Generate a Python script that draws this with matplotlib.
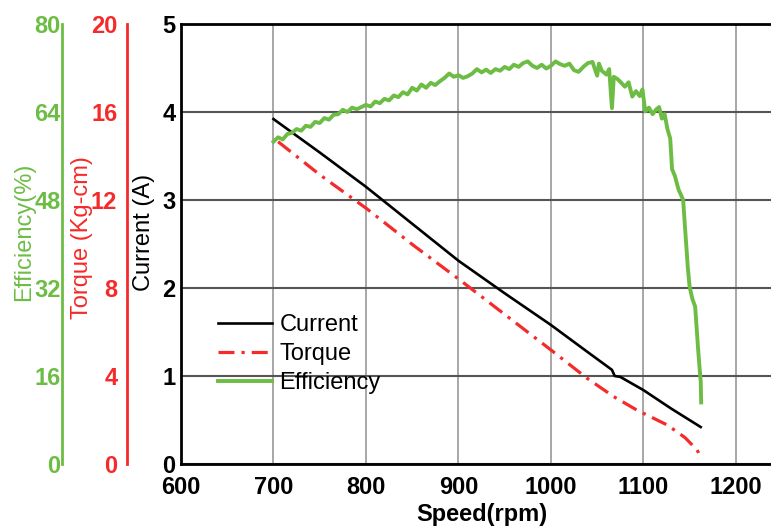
import matplotlib
matplotlib.use("Agg")
from matplotlib import pyplot as plt

plt.rcParams['font.family'] = ['Liberation Sans', 'DejaVu Sans']

# current (A) vs speed
cur_rpm = [700, 750, 800, 850, 900, 950, 1000, 1040, 1066, 1069, 1075, 1100, 1130, 1162]
cur_amp = [3.92, 3.54, 3.15, 2.73, 2.31, 1.94, 1.58, 1.27, 1.07, 1.00, 0.99, 0.84, 0.63, 0.42]

# torque (Kg-cm) vs speed
tq_rpm = [705, 750, 801, 851, 902, 950, 998, 1039, 1068, 1093, 1126, 1145, 1158, 1163]
tq_val = [14.65, 13.15, 11.6, 9.95, 8.35, 6.8, 5.25, 3.9, 3.06, 2.45, 1.77, 1.2, 0.64, 0.25]

# efficiency (%) vs speed
eff_rpm = [700, 705, 710, 715, 720, 725, 730, 735, 740, 745, 750, 755, 760, 765,
           770, 775, 780, 785, 790, 795, 800, 805, 810, 815, 820, 825, 830, 835,
           840, 845, 850, 855, 860, 865, 870, 875, 880, 885, 890, 895, 900, 905,
           910, 915, 920, 925, 930, 935, 940, 945, 950, 955, 960, 965, 970, 975,
           980, 985, 990, 995, 1000, 1005, 1010, 1015, 1020, 1025, 1030, 1035,
           1040, 1045, 1050, 1052, 1055, 1060, 1063, 1066, 1068, 1072, 1075, 1080,
           1084, 1088, 1092, 1096, 1099, 1102, 1106, 1110, 1114, 1117, 1120, 1123,
           1126, 1129, 1131, 1134, 1138, 1141, 1143, 1145, 1146.5, 1148, 1150,
           1153, 1156, 1157.5, 1159, 1160.5, 1162, 1162.5]
eff_val = [58.6, 59.4, 59.0, 60.0, 60.2, 60.9, 60.6, 61.5, 61.3, 62.2, 62.0, 62.9, 62.6, 63.5,
           63.6, 64.4, 64.0, 64.8, 64.5, 64.9, 65.3, 65.0, 65.9, 65.6, 66.4, 66.1, 67.0, 66.7,
           67.6, 67.2, 68.4, 67.9, 69.0, 68.4, 69.3, 68.9, 69.6, 70.2, 71.0, 70.4, 70.7, 70.2,
           70.5, 71.0, 71.8, 71.2, 71.7, 71.1, 71.8, 71.5, 72.2, 71.8, 72.6, 72.2, 72.9, 73.2,
           72.4, 72.0, 72.6, 71.9, 72.4, 73.2, 72.7, 72.4, 72.8, 71.6, 71.3, 72.2,
           72.9, 73.1, 70.6, 72.8, 71.5, 70.8, 71.8, 64.7, 70.4, 70.0, 69.5, 68.6,
           69.4, 66.8, 67.8, 66.9, 68.1, 64.1, 64.8, 63.6, 64.5, 64.9, 62.8, 63.6,
           60.9, 59.2, 53.6, 52.4, 49.9, 48.8, 48.0, 43.0, 39.5, 35.8, 32.2,
           30.0, 28.6, 25.0, 21.3, 18.0, 15.0, 11.2]

green = '#6dbd45'
red = '#f52a2a'
fs = 17

fig = plt.figure(figsize=(7.71, 5.29), dpi=100)
ax = fig.add_axes([181 / 771, 1 - 464 / 529, 590 / 771, 440 / 529])
ax_t = ax.twinx()
ax_e = ax.twinx()

l1, = ax.plot(cur_rpm, cur_amp, color='black', lw=1.9, label='Current')
l2, = ax_t.plot(tq_rpm, tq_val, color=red, lw=2.3, ls=(0, (5, 2.2, 1, 2.2)), label='Torque')
l3, = ax_e.plot(eff_rpm, eff_val, color=green, lw=2.8, label='Efficiency')

ax.set_xlim(600, 1238)
ax.set_ylim(0, 5)
ax_t.set_ylim(0, 20)
ax_e.set_ylim(0, 80)

ax.set_xticks([600, 700, 800, 900, 1000, 1100, 1200])
ax.set_yticks([0, 1, 2, 3, 4, 5])
ax_t.set_yticks([0, 4, 8, 12, 16, 20])
ax_e.set_yticks([0, 16, 32, 48, 64, 80])

ax.xaxis.grid(True, color='#a0a0a0', lw=1.3)
ax.yaxis.grid(True, color='#555555', lw=1.5)
ax.set_axisbelow(True)

for s in ['left', 'bottom', 'top']:
    ax.spines[s].set_linewidth(2)
ax.spines['right'].set_visible(False)

ax.tick_params(axis='x', length=0, pad=9, labelsize=fs)
ax.tick_params(axis='y', length=0, pad=4, labelsize=fs)

# torque axis on the left
for s in ['right', 'top', 'bottom']:
    ax_t.spines[s].set_visible(False)
ax_t.spines['left'].set_visible(True)
ax_t.spines['left'].set_position(('axes', -0.0915))
ax_t.spines['left'].set_color(red)
ax_t.spines['left'].set_linewidth(2)
ax_t.yaxis.set_ticks_position('left')
ax_t.yaxis.set_label_position('left')
ax_t.tick_params(axis='y', length=0, pad=7, labelsize=fs, colors=red)

# efficiency axis further left
for s in ['right', 'top', 'bottom']:
    ax_e.spines[s].set_visible(False)
ax_e.spines['left'].set_visible(True)
ax_e.spines['left'].set_position(('axes', -0.2017))
ax_e.spines['left'].set_color(green)
ax_e.spines['left'].set_linewidth(2)
ax_e.yaxis.set_ticks_position('left')
ax_e.yaxis.set_label_position('left')
ax_e.tick_params(axis='y', length=0, pad=1, labelsize=fs, colors=green)

for a in [ax, ax_t, ax_e]:
    for lab in a.get_xticklabels() + a.get_yticklabels():
        lab.set_fontweight('bold')

ax.set_xlabel('Speed(rpm)', fontsize=fs, fontweight='bold')
ax.xaxis.set_label_coords(0.51, -0.089)

ax.set_ylabel('Current (A)', fontsize=fs)
ax_t.set_ylabel('Torque (Kg-cm)', fontsize=fs, color=red)
ax_e.set_ylabel('Efficiency(%)', fontsize=fs, color=green)
for a, xpos, ypos in [(ax, -0.063, 0.527), (ax_t, -0.168, 0.515), (ax_e, -0.266, 0.527)]:
    a.yaxis.label.set_verticalalignment('center')
    a.yaxis.set_label_coords(xpos, ypos)

ax.legend([l1, l2, l3], ['Current', 'Torque', 'Efficiency'], loc='upper left',
          bbox_to_anchor=(0.0627, 0.341), frameon=False, fontsize=fs,
          borderpad=0, borderaxespad=0, handlelength=2.3, handletextpad=0.3,
          labelspacing=0.3)

fig.savefig('out.png', dpi=100)
